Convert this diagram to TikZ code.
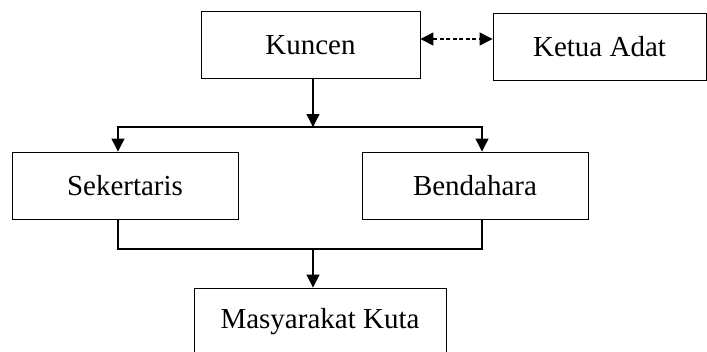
\documentclass[tikz,border=0pt]{standalone}
\usepackage{fontspec}
\setmainfont{Liberation Serif}
\usetikzlibrary{arrows.meta}

\begin{document}
\begin{tikzpicture}[x=1pt,y=-1pt,>={Triangle[length=13pt,width=13pt]},line width=1.3pt,every node/.style={draw,line width=0.9pt,minimum height=67pt,inner sep=0pt,font=\fontsize{29}{34}\selectfont}]
\useasboundingbox (0,0) rectangle (707,351);
\clip (0,0) rectangle (707,351);
\node[minimum width=219pt] (kuncen) at (310.5,45) {Kuncen};
\node[minimum width=213pt] (ketua) at (599.5,47) {Ketua Adat};
\node[minimum width=226pt] (sekertaris) at (125,185.5) {Sekertaris};
\node[minimum width=226pt] (bendahara) at (475,185.5) {Bendahara};
\node[minimum width=252pt,minimum height=68pt] (masyarakat) at (320,322) {Masyarakat Kuta};
\coordinate (split) at (313,127);
\coordinate (join) at (313,249);
\draw[<->,dash pattern=on 4pt off 2.5pt] ([yshift=6pt]kuncen.east) -- ([yshift=6pt]kuncen.east -| ketua.west);
\draw[->] (kuncen.south -| split) -- (split);
\draw[->] (split) -| ([xshift=-7pt]sekertaris.north);
\draw[->] (split) -| ([xshift=7pt]bendahara.north);
\draw ([xshift=-7pt]sekertaris.south) |- (join) -| ([xshift=7pt]bendahara.south);
\draw[->] (join) -- (join |- masyarakat.north);
\end{tikzpicture}
\end{document}
